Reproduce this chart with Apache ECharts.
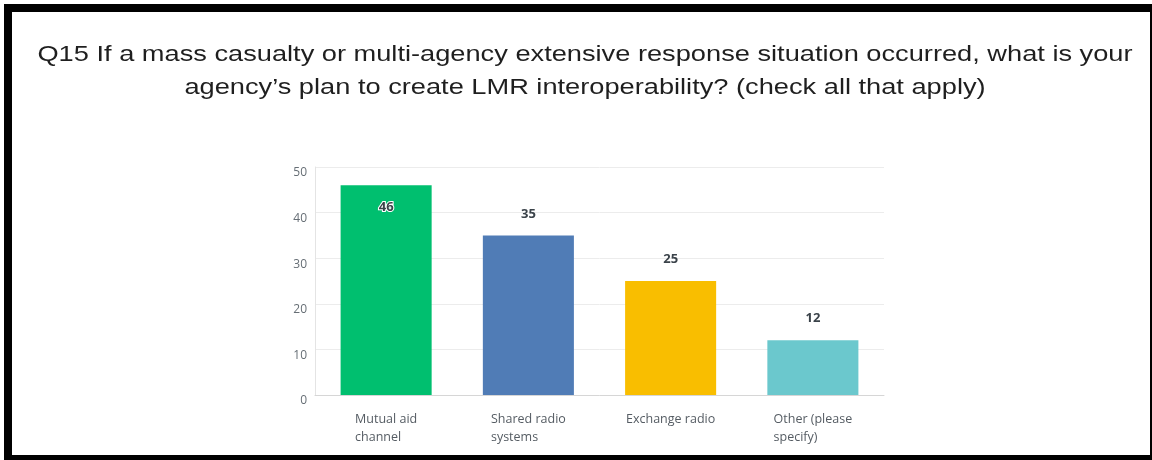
<!DOCTYPE html>
<html>
<head>
<meta charset="utf-8">
<style>
  html, body { margin: 0; padding: 0; background: #ffffff; }
  #chart { width: 1152px; height: 460px; }
</style>
<script src="https://cdn.jsdelivr.net/npm/echarts@6/dist/echarts.min.js"></script>
</head>
<body>
<div id="chart"></div>
<script>
// Survey question and answer options
const titleLines = [
  'Q15 If a mass casualty or multi-agency extensive response situation occurred, what is your',
  'agency\u2019s plan to create LMR interoperability? (check all that apply)'
];
const categories = [
  ['Mutual aid', 'channel'],
  ['Shared radio', 'systems'],
  ['Exchange radio'],
  ['Other (please', 'specify)']
];
const responses = [46, 35, 25, 12];
const barColors = ['#00BF6F', '#507CB6', '#F9BE00', '#6BC8CD'];
const yTicks = [0, 10, 20, 30, 40, 50];

const chart = echarts.init(document.getElementById('chart'), null, { renderer: 'canvas' });

const yMax = yTicks[yTicks.length - 1];

const option = {
  backgroundColor: '#ffffff',
  animation: false,
  graphic: [
    // page frame
    { type: 'rect', shape: { x: 4, y: 4, width: 1148, height: 8 }, style: { fill: '#000' }, z: 100 },
    { type: 'rect', shape: { x: 4, y: 4, width: 8, height: 456 }, style: { fill: '#000' }, z: 100 },
    { type: 'rect', shape: { x: 4, y: 455, width: 1148, height: 5 }, style: { fill: '#000' }, z: 100 },
    { type: 'rect', shape: { x: 1150, y: 4, width: 2, height: 456 }, style: { fill: '#000' }, z: 100 },
    // question heading, slightly widened type
    {
      type: 'text',
      x: 585,
      y: 38,
      scaleX: 1.237,
      scaleY: 1,
      style: {
        text: titleLines.join('\n'),
        font: '22px "Liberation Sans", Arial, sans-serif',
        fill: '#1f1f1f',
        textAlign: 'center',
        textVerticalAlign: 'top',
        lineHeight: 33
      },
      z: 50
    }
  ],
  grid: { left: 315, right: 268, top: 167, bottom: 65, containLabel: false },
  xAxis: {
    type: 'category',
    data: categories.map(c => c.join('\n')),
    axisLine: { show: true, lineStyle: { color: '#d6d6d6', width: 1 } },
    axisTick: { show: false },
    axisLabel: {
      interval: 0,
      margin: 15,
      fontFamily: '"Open Sans", sans-serif',
      fontSize: 12.5,
      color: '#555c63',
      lineHeight: 18,
      formatter: function (v) {
        return v.split('\n').map(s => '{l|' + s + '}').join('\n');
      },
      rich: {
        l: { align: 'left', fontFamily: '"Open Sans", sans-serif', fontSize: 12.5, color: '#555c63', lineHeight: 18 }
      }
    }
  },
  yAxis: {
    type: 'value',
    min: 0,
    max: yMax,
    interval: 10,
    axisLine: { show: true, lineStyle: { color: '#e4e4e4', width: 1 } },
    axisTick: { show: false },
    splitLine: { show: true, lineStyle: { color: '#ececec', width: 1 } },
    axisLabel: {
      margin: 8,
      verticalAlign: 'top',
      fontFamily: '"Open Sans", sans-serif',
      fontSize: 12,
      color: '#666e75'
    }
  },
  series: [{
    type: 'bar',
    barCategoryGap: '36%',
    data: responses.map((v, i) => {
      const nearTop = v > yMax - 8;
      return {
        value: v,
        itemStyle: { color: barColors[i] },
        label: nearTop
          ? { position: 'insideTop', distance: 16, textBorderColor: '#ffffff', textBorderWidth: 2 }
          : { position: 'top', distance: 15 }
      };
    }),
    label: {
      show: true,
      fontFamily: '"Open Sans", sans-serif',
      fontSize: 13,
      fontWeight: 'bold',
      color: '#3b434a'
    }
  }]
};

chart.setOption(option);
</script>
</body>
</html>
